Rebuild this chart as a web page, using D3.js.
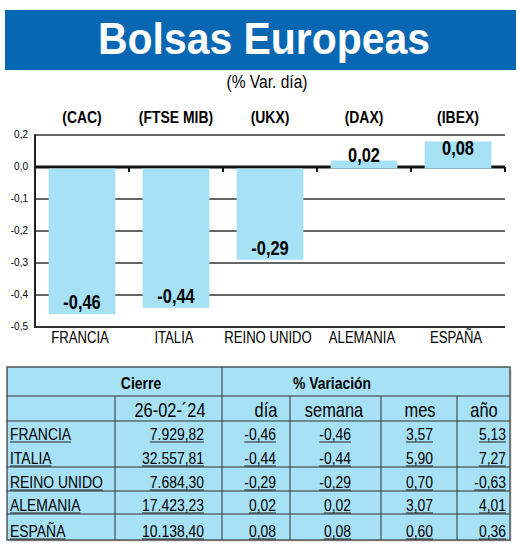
<!DOCTYPE html>
<html>
<head>
<meta charset="utf-8">
<script src="https://cdn.jsdelivr.net/npm/d3@7"></script>
<style>
body { margin: 0; background: white; }
svg { display: block; }
</style>
</head>
<body>
<svg></svg>
<script>
var w = 520
var h = 546
var barColor = "#a6e1f6"
var blue = "#0767b2"
var sans = "'Liberation Sans', Arial, sans-serif"
var squeeze = 0.82

// data
var paises = ["FRANCIA", "ITALIA", "REINO UNIDO", "ALEMANIA", "ESPAÑA"]
var indices = ["(CAC)", "(FTSE MIB)", "(UKX)", "(DAX)", "(IBEX)"]
var varDia = [-0.46, -0.44, -0.29, 0.02, 0.08]
var cierre = ["7.929,82", "32.557,81", "7.684,30", "17.423,23", "10.138,40"]
var varSemana = [-0.46, -0.44, -0.29, 0.02, 0.08]
var varMes = [3.57, 5.90, 0.70, 3.07, 0.60]
var varAnio = [5.13, 7.27, -0.63, 4.01, 0.36]
var yTicks = [0.1, 0, -0.1, -0.2, -0.3, -0.4, -0.5]
var yTickLabels = ["0,2", "0,0", "-0,1", "-0,2", "-0,3", "-0,4", "-0,5"]
var fecha = "26-02-´24"

var fmt = function(v){ return d3.format(".2f")(v).replace(".", ",").replace("−", "-") }

// condensed looking text: scale x around the anchor point
function condText(parent, x, y, str, size, anchor, weight){
	return parent.append("text")
		.attr("transform", "translate(" + x + "," + y + ") scale(" + squeeze + ",1)")
		.attr("text-anchor", anchor)
		.attr("font-family", sans)
		.attr("font-weight", weight || "normal")
		.attr("font-size", size)
		.text(str)
}

var svg = d3.select("svg")
	.attr("width", w)
	.attr("height", h)

// title band
svg.append("rect")
	.attr("x", 5).attr("y", 10)
	.attr("width", 511).attr("height", 60)
	.attr("fill", blue)

svg.append("text")
	.attr("x", 264).attr("y", 54)
	.attr("text-anchor", "middle")
	.attr("font-family", sans)
	.attr("font-weight", "bold")
	.attr("font-size", 44)
	.attr("textLength", 332)
	.attr("lengthAdjust", "spacingAndGlyphs")
	.attr("fill", "white")
	.text("Bolsas Europeas")

condText(svg, 267, 88, "(% Var. día)", 19, "middle")

// chart
var x = d3.scaleBand()
	.domain(paises)
	.range([35, 505])
	.paddingInner(0.29)
	.paddingOuter(0.145)

var y = d3.scaleLinear()
	.domain([-0.5, 0.1])
	.range([327, 135])

var chart = svg.append("g")

// grid lines
chart.selectAll(".grid")
	.data(yTicks.filter(function(d){ return d != 0 }))
	.enter().append("line")
	.attr("x1", 35).attr("x2", 505)
	.attr("y1", function(d){ return y(d) })
	.attr("y2", function(d){ return y(d) })
	.attr("stroke", "#333")
	.attr("stroke-width", function(d){ return d == -0.5 ? 2 : 1.5 })

// zero line with small ticks between bars
chart.append("line")
	.attr("x1", 35).attr("x2", 505)
	.attr("y1", y(0)).attr("y2", y(0))
	.attr("stroke", "#111")
	.attr("stroke-width", 3)

var sep = paises.map(function(d){ return x(d) + x.bandwidth() + x.step() * 0.145 })
chart.selectAll(".sep")
	.data(sep)
	.enter().append("line")
	.attr("x1", function(d){ return d }).attr("x2", function(d){ return d })
	.attr("y1", y(0)).attr("y2", y(0) + 5)
	.attr("stroke", "#111")
	.attr("stroke-width", 2)

// y axis
chart.append("line")
	.attr("x1", 35).attr("x2", 35)
	.attr("y1", y(0.1) - 0.75).attr("y2", y(-0.5) + 1)
	.attr("stroke", "#222")
	.attr("stroke-width", 2)

chart.selectAll(".ylab")
	.data(yTicks)
	.enter().append("text")
	.attr("x", 28)
	.attr("y", function(d){ return y(d) + 3 })
	.attr("text-anchor", "end")
	.attr("font-family", sans)
	.attr("font-size", 10)
	.text(function(d, i){ return yTickLabels[i] })

// bars
chart.selectAll(".bar")
	.data(varDia)
	.enter().append("rect")
	.attr("x", function(d, i){ return x(paises[i]) })
	.attr("width", x.bandwidth())
	.attr("y", function(d){ return d < 0 ? y(0) + 1.5 : y(d) })
	.attr("height", function(d){ return d < 0 ? y(d) - y(0) - 1.5 : y(0) - y(d) + 1.5 })
	.attr("fill", barColor)

// value labels
varDia.forEach(function(d, i){
	var lx = x(paises[i]) + x.bandwidth() / 2
	var ly = d < 0 ? y(d) - 5 : Math.min(y(0) - 5, y(d) + 14)
	condText(chart, lx, ly, fmt(d), 20, "middle", "bold")
})

// index names on top
indices.forEach(function(d, i){
	condText(chart, x(paises[i]) + x.bandwidth() / 2, 123, d, 17, "middle", "bold")
})

// country names below
paises.forEach(function(d){
	condText(chart, x(d) + x.bandwidth() / 2 - 2, 343, d, 16, "middle")
})

// table
var tb = svg.append("g")
var tLeft = 7, tRight = 510, tTop = 367, tBottom = 540
var rowLines = [396, 421, 443, 467, 491, 514, 540]
var colLines = [115, 222, 290, 381, 457]

tb.append("rect")
	.attr("x", tLeft + 1.5).attr("y", tTop + 1.5)
	.attr("width", tRight - tLeft).attr("height", tBottom - tTop)
	.attr("fill", "#cfcfcf")

tb.append("rect")
	.attr("x", tLeft).attr("y", tTop)
	.attr("width", tRight - tLeft).attr("height", tBottom - tTop)
	.attr("fill", barColor)
	.attr("stroke", "#555")
	.attr("stroke-width", 1.5)

// horizontal lines (under the first data row there is no full separator)
tb.selectAll(".hl")
	.data([396, 421, 467, 491, 514])
	.enter().append("line")
	.attr("x1", tLeft).attr("x2", tRight)
	.attr("y1", function(d){ return d }).attr("y2", function(d){ return d })
	.attr("stroke", "#333")
	.attr("stroke-width", 1)

tb.selectAll(".vl")
	.data(colLines)
	.enter().append("line")
	.attr("x1", function(d){ return d }).attr("x2", function(d){ return d })
	.attr("y1", function(d){ return d == 222 ? tTop : 396 })
	.attr("y2", tBottom)
	.attr("stroke", "#333")
	.attr("stroke-width", 1)

condText(tb, 141, 389, "Cierre", 17, "middle", "bold")
condText(tb, 332, 389, "% Variación", 17, "middle", "bold")

var head2 = [fecha, "día", "semana", "mes", "año"]
var head2X = [170, 266, 334, 420, 484]
head2.forEach(function(d, i){
	condText(tb, head2X[i], 417, d, 20, "middle")
})

// data cells
var cols = [
	{vals: paises, x: 10, anchor: "start"},
	{vals: cierre, x: 204, anchor: "end"},
	{vals: varDia.map(fmt), x: 276, anchor: "end"},
	{vals: varSemana.map(fmt), x: 351, anchor: "end"},
	{vals: varMes.map(fmt), x: 433, anchor: "end"},
	{vals: varAnio.map(fmt), x: 506, anchor: "end"}
]

cols.forEach(function(c){
	c.vals.forEach(function(v, r){
		var by = rowLines[r + 2] - 3
		var t = condText(tb, c.x, by, v, 17, c.anchor)
		var len = t.node().getComputedTextLength() * squeeze
		var x0 = c.anchor == "start" ? c.x : c.x - len
		tb.append("line")
			.attr("x1", x0).attr("x2", x0 + len)
			.attr("y1", by + 2).attr("y2", by + 2)
			.attr("stroke", "#222")
			.attr("stroke-width", 1)
	})
})
</script>
</body>
</html>
